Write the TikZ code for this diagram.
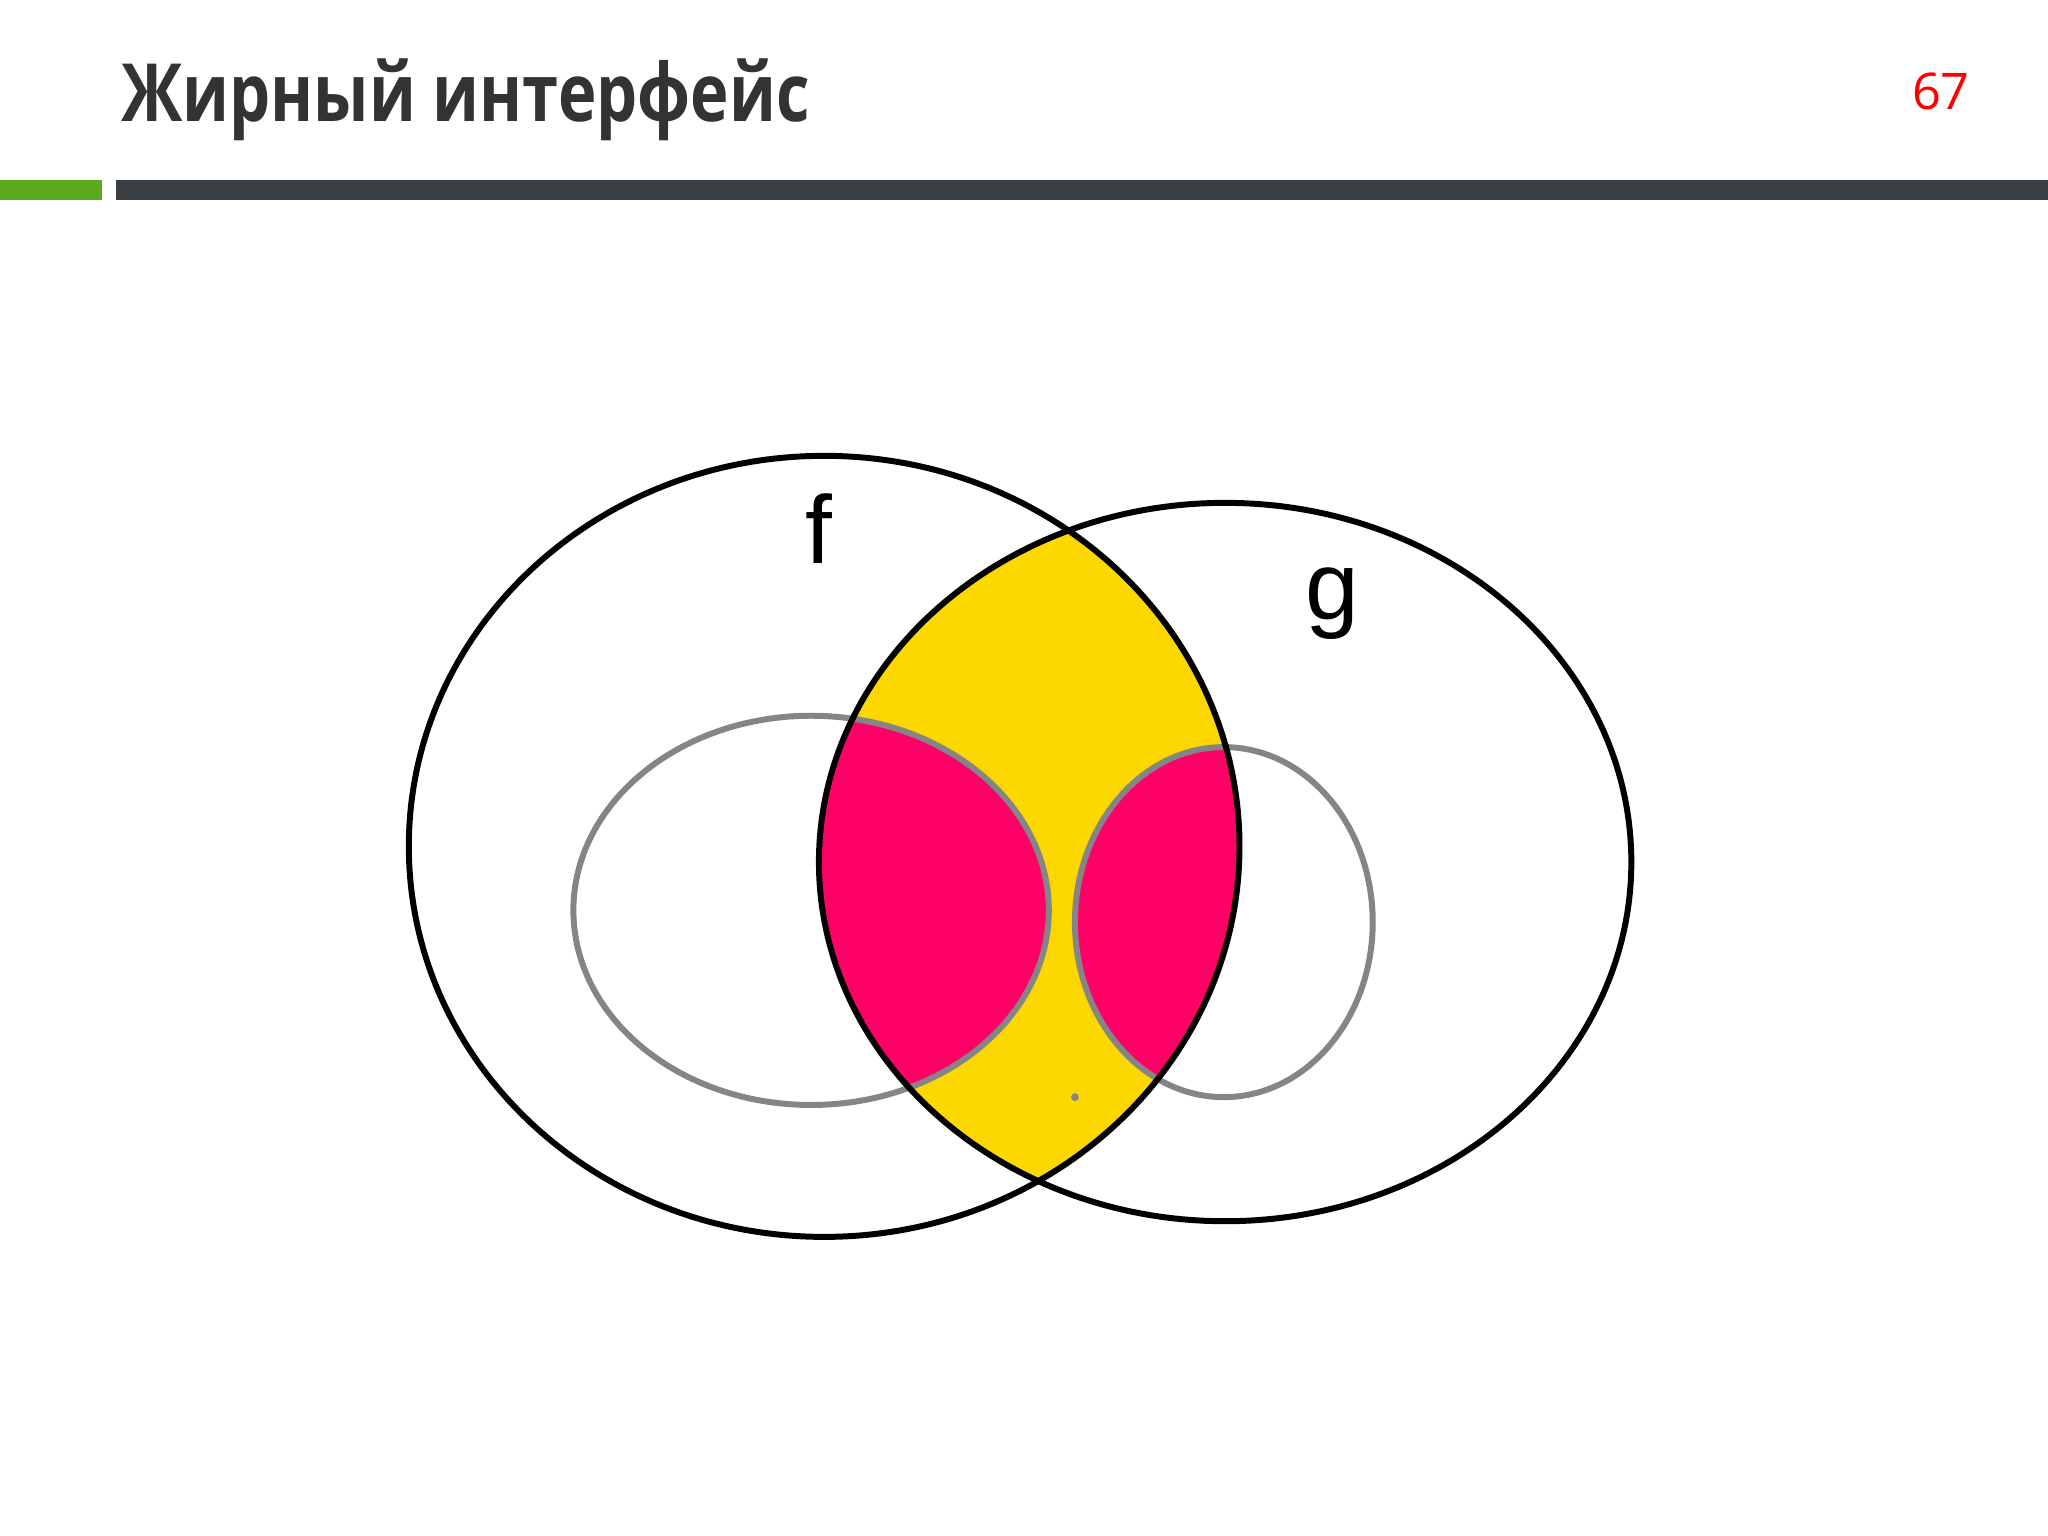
\documentclass[tikz,border=0pt]{standalone}
\usepackage{fontspec}
\setmainfont{Open Sans}
\newfontfamily\arialf{Liberation Sans}
\definecolor{ttl}{HTML}{333333}
\definecolor{barg}{HTML}{5BAA1E}
\definecolor{bard}{HTML}{3A3F44}
\definecolor{yel}{HTML}{FCD700}
\definecolor{mag}{HTML}{FF0066}
\definecolor{gry}{HTML}{858585}
\tikzset{bigell/.style={draw=black,line width=1.3pt},smallell/.style={draw=gry,line width=1.3pt}}
\begin{document}
\begin{tikzpicture}[x=0.01cm,y=-0.01cm]
\useasboundingbox (0,0) rectangle (1568,1176);
\fill[white] (0,0) rectangle (1568,1176);
\node[anchor=base west,text=ttl,font=\bfseries\fontsize{17.5}{21}\selectfont,inner sep=0] (title) at (92,93) {\scalebox{0.81}[1]{Жирный интерфейс}};
\node[text=red,font=\fontsize{11}{13}\selectfont,inner sep=0] (num) at (1486,70) {67};
\fill[barg] (0,138) rectangle (78,153);
\fill[bard] (89,138) rectangle (1568,153);
\begin{scope}
\clip (631,648) ellipse [x radius=318,y radius=299];
\fill[yel] (938,660) ellipse [x radius=311,y radius=275];
\clip (938,660) ellipse [x radius=311,y radius=275];
\fill[mag] (621,697) ellipse [x radius=182,y radius=149];
\fill[mag] (937,706) ellipse [x radius=114,y radius=134];
\end{scope}
\path[smallell] (621,697) ellipse [x radius=182,y radius=149];
\path[smallell] (937,706) ellipse [x radius=114,y radius=134];
\path[bigell] (631,648) ellipse [x radius=318,y radius=299];
\path[bigell] (938,660) ellipse [x radius=311,y radius=275];
\fill[gry] (823,840) circle (3);
\node[font=\arialf\fontsize{21}{25}\selectfont] (f) at (627,405) {f};
\node[font=\arialf\fontsize{21}{25}\selectfont] (g) at (1020,462) {g};
\end{tikzpicture}
\end{document}
